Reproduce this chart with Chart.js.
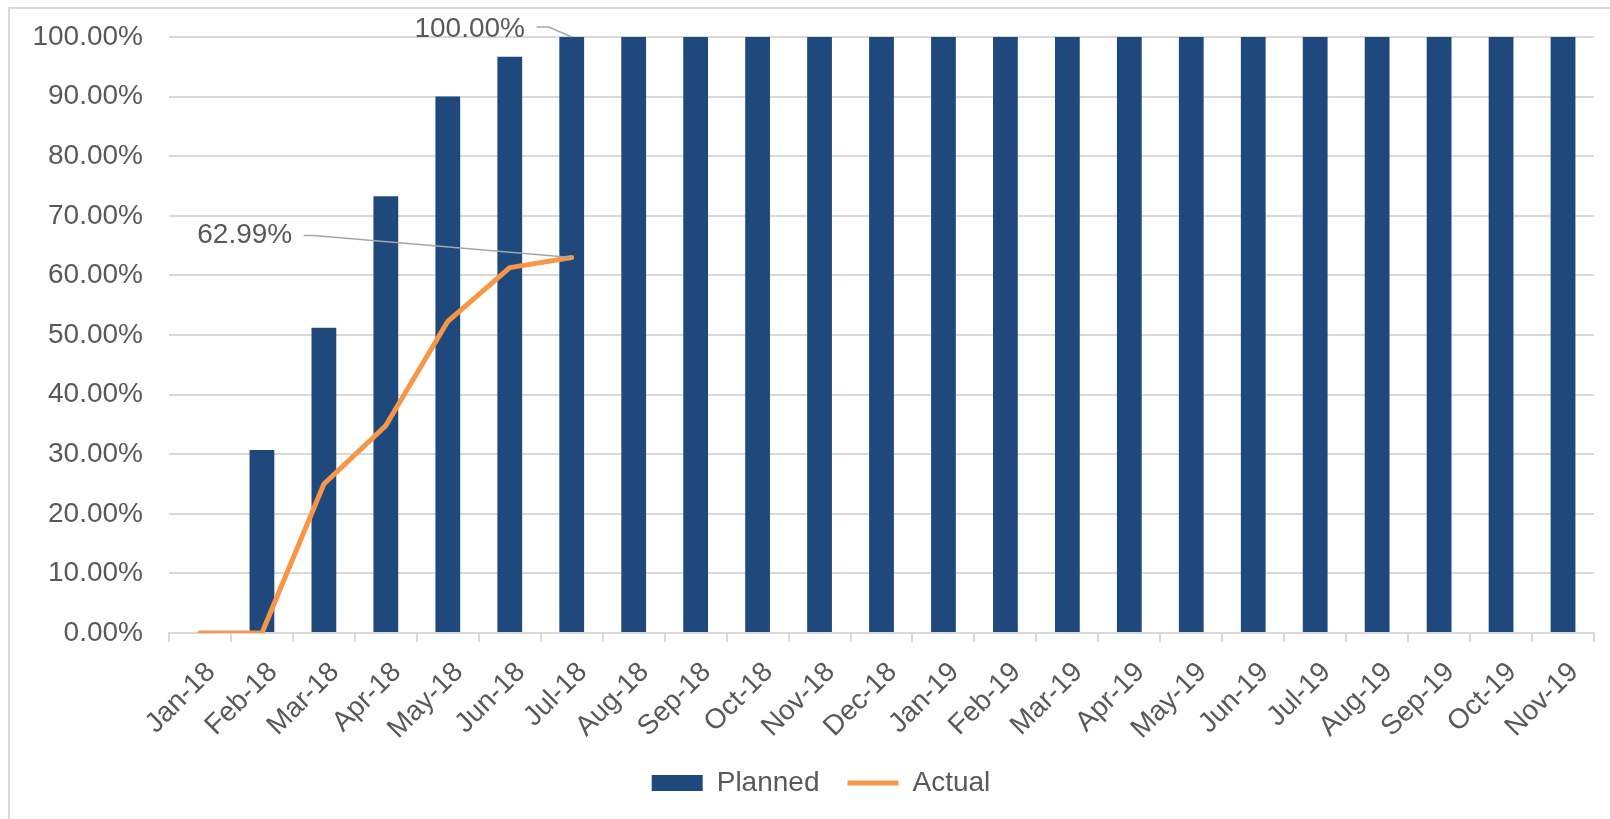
<!DOCTYPE html>
<html>
<head>
<meta charset="utf-8">
<script src="https://cdn.jsdelivr.net/npm/chart.js@4"></script>
<style>
  html, body { margin: 0; padding: 0; background: #fff; overflow: hidden; }
  #wrap { position: relative; width: 1610px; height: 819px; }
  #frame { position: absolute; left: 8px; top: 7px; width: 1700px; height: 900px; border: 2px solid #d9d9d9; box-sizing: border-box; }
  canvas { position: absolute; left: 0; top: 0; }
</style>
</head>
<body>
<div id="wrap">
  <div id="frame"></div>
  <canvas id="chart" width="1610" height="819"></canvas>
</div>
<script>
// data
const months = ['Jan-18','Feb-18','Mar-18','Apr-18','May-18','Jun-18','Jul-18','Aug-18','Sep-18','Oct-18','Nov-18','Dec-18',
  'Jan-19','Feb-19','Mar-19','Apr-19','May-19','Jun-19','Jul-19','Aug-19','Sep-19','Oct-19','Nov-19'];
const planned = [0, 30.7, 51.2, 73.3, 90, 96.7, 100, 100, 100, 100, 100, 100,
  100, 100, 100, 100, 100, 100, 100, 100, 100, 100, 100];
const actual = [0, 0, 25.0, 34.8, 52.3, 61.3, 62.99];

const textColor = '#595959';
const gridColor = '#d9d9d9';
const fontFamily = '"Liberation Sans", Arial, sans-serif';
const fontSize = 28;

const fmt = v => v.toFixed(2) + '%';

// labels with leader lines, like the ones excel puts on the last point
const calloutPlugin = {
  id: 'callouts',
  afterLayout(chart) {
    // legend sits a bit right of centre in the original
    chart.legend.left += 24;
    chart.legend.right += 24;
  },
  afterDatasetsDraw(chart) {
    const ctx = chart.ctx;
    const items = [
      { ds: 0, idx: 6, dx: -102, dy: -8, sx: -35, kx: -23, ky: -10 },
      { ds: 1, idx: 6, dx: -327, dy: -22, sx: -268, kx: -258, ky: -22 }
    ];
    ctx.save();
    items.forEach(it => {
      const el = chart.getDatasetMeta(it.ds).data[it.idx];
      const val = chart.data.datasets[it.ds].data[it.idx];
      const x = el.x, y = el.y;
      ctx.strokeStyle = '#a6a6a6';
      ctx.lineWidth = 1.5;
      ctx.beginPath();
      ctx.moveTo(x + it.sx, y + it.ky);
      ctx.lineTo(x + it.kx, y + it.ky);
      ctx.lineTo(x, y);
      ctx.stroke();
      ctx.fillStyle = textColor;
      ctx.font = fontSize + 'px ' + fontFamily;
      ctx.textAlign = 'center';
      ctx.textBaseline = 'middle';
      ctx.fillText(fmt(val), x + it.dx, y + it.dy);
    });
    ctx.restore();
  }
};

new Chart(document.getElementById('chart'), {
  data: {
    labels: months,
    datasets: [
      {
        type: 'bar',
        label: 'Planned',
        data: planned,
        backgroundColor: '#1f497d',
        borderWidth: 0,
        barPercentage: 0.4,
        categoryPercentage: 1.0,
        pointStyle: 'rect',
        order: 2
      },
      {
        type: 'line',
        label: 'Actual',
        data: actual,
        borderColor: '#f79646',
        backgroundColor: '#f79646',
        borderWidth: 5,
        borderCapStyle: 'round',
        borderJoinStyle: 'round',
        pointRadius: 0,
        pointHoverRadius: 0,
        pointStyle: 'line',
        tension: 0,
        fill: false,
        order: 1
      }
    ]
  },
  options: {
    responsive: false,
    animation: false,
    layout: { padding: { top: 37, right: 16, bottom: 12, left: 0 } },
    scales: {
      x: {
        offset: true,
        grid: { offset: true, drawOnChartArea: false, drawTicks: true, tickLength: 9, color: gridColor, lineWidth: 2 },
        border: { color: gridColor, width: 2 },
        ticks: {
          color: textColor,
          font: { family: fontFamily, size: fontSize },
          minRotation: 45,
          maxRotation: 45,
          autoSkip: false,
          padding: 14,
          labelOffset: 11
        },
        afterFit(scale) { scale.height = 108; }
      },
      y: {
        min: 0,
        max: 100,
        grid: { color: gridColor, lineWidth: 2, drawTicks: true, tickLength: 26, tickColor: 'rgba(0,0,0,0)' },
        border: { display: false },
        ticks: {
          stepSize: 10,
          color: textColor,
          font: { family: fontFamily, size: fontSize },
          padding: 0,
          callback: v => fmt(v)
        },
        afterFit(scale) { scale.width = 169; }
      }
    },
    plugins: {
      tooltip: { enabled: false },
      legend: {
        position: 'bottom',
        labels: {
          color: textColor,
          font: { family: fontFamily, size: fontSize },
          usePointStyle: true,
          pointStyleWidth: 51,
          boxHeight: 16,
          padding: 28,
          sort: (a, b) => a.datasetIndex - b.datasetIndex
        }
      }
    }
  },
  plugins: [calloutPlugin]
});
</script>
</body>
</html>
